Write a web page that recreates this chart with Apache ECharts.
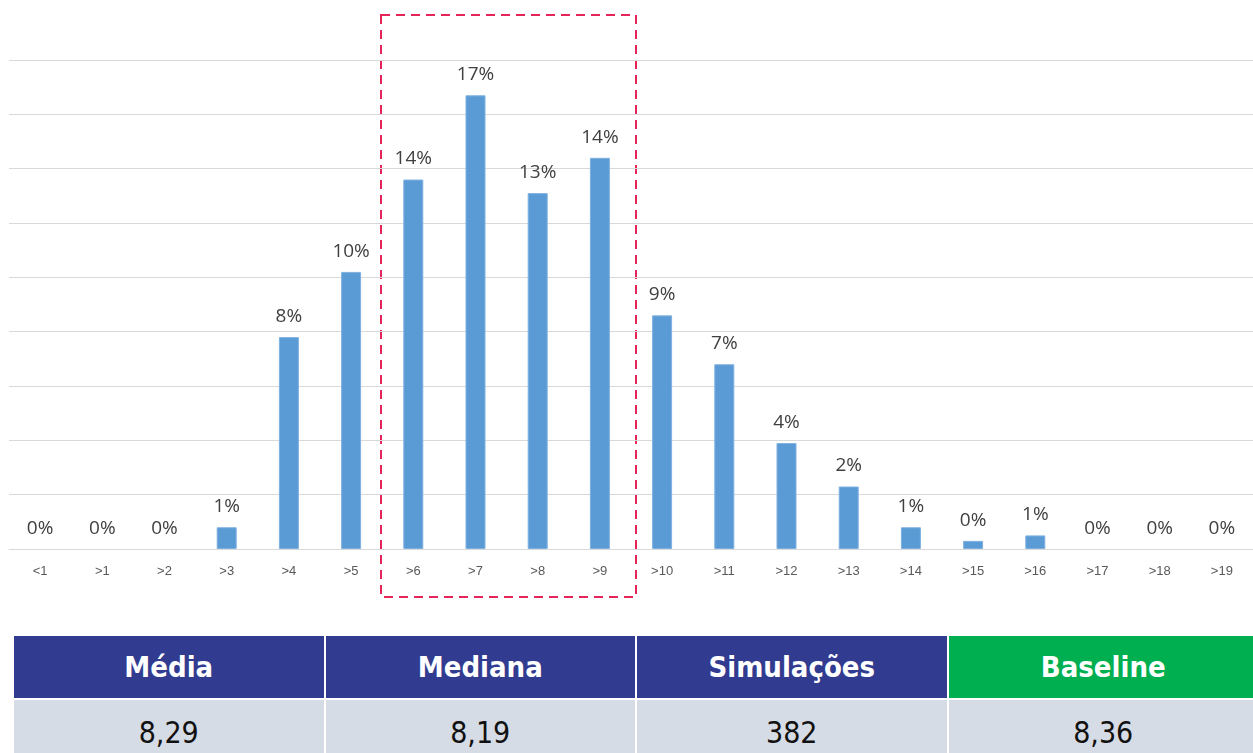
<!DOCTYPE html>
<html>
<head>
<meta charset="utf-8">
<script src="https://cdn.jsdelivr.net/npm/echarts@6/dist/echarts.min.js"></script>
<style>
  html, body { margin: 0; padding: 0; background: #fff; }
  #chart { position: absolute; left: 0; top: 0; width: 1253px; height: 610px; }
  #stats { position: absolute; left: 12px; top: 634px; border-collapse: collapse; table-layout: fixed; width: 1248px;
           font-family: "DejaVu Sans", sans-serif; font-stretch: condensed; }
  #stats td { text-align: center; border: 2px solid #fff; padding: 0; }
  #stats tr.head td { height: 62px; background: #313B8F; color: #fff; font-weight: bold; font-size: 29px; }
  #stats tr.head td.green { background: #00AF50; }
  #stats tr.vals td { height: 56px; background: #D6DCE5; color: #111; font-size: 30px; padding-top: 4px; }
</style>
</head>
<body>
<div id="chart"></div>
<table id="stats">
  <tr class="head"><td>Média</td><td>Mediana</td><td>Simulações</td><td class="green">Baseline</td></tr>
  <tr class="vals"><td>8,29</td><td>8,19</td><td>382</td><td>8,36</td></tr>
</table>
<script>
// faixas de horas
const categories = ['<1', '>1', '>2', '>3', '>4', '>5', '>6', '>7', '>8', '>9',
  '>10', '>11', '>12', '>13', '>14', '>15', '>16', '>17', '>18', '>19'];
// percentagem das simulações em cada faixa
const percentages = [0, 0, 0, 0.8, 7.8, 10.2, 13.6, 16.7, 13.1, 14.4,
  8.6, 6.8, 3.9, 2.3, 0.8, 0.3, 0.5, 0, 0, 0];

const chart = echarts.init(document.getElementById('chart'));

chart.setOption({
  animation: false,
  grid: { left: 9, top: 60, width: 1252, height: 489 },
  xAxis: {
    type: 'category',
    data: categories,
    axisLine: { lineStyle: { color: '#D9D9D9', width: 1 } },
    axisTick: { show: false },
    axisLabel: { color: '#595959', fontSize: 13, margin: 16, fontFamily: 'Liberation Sans' }
  },
  yAxis: {
    type: 'value',
    min: 0,
    max: 18,
    interval: 2,
    axisLabel: { show: false },
    axisLine: { show: false },
    axisTick: { show: false },
    splitLine: { lineStyle: { color: '#D9D9D9', width: 1 } }
  },
  series: [{
    type: 'bar',
    data: percentages.map(v => ({ value: v, itemStyle: { borderWidth: v > 0 ? 1 : 0 } })),
    barWidth: 20,
    itemStyle: { color: '#5B9BD5', borderColor: '#7FB1E0' },
    label: {
      show: true,
      position: 'top',
      distance: 11,
      color: '#404040',
      fontSize: 19,
      fontFamily: 'Open Sans',
      formatter: p => Math.round(p.value) + '%'
    }
  }],
  graphic: [{
    type: 'rect',
    shape: { x: 381, y: 15, width: 255, height: 582 },
    style: { fill: 'none', stroke: '#E5245A', lineWidth: 2, lineDash: [9, 6] }
  }]
});
</script>
</body>
</html>
